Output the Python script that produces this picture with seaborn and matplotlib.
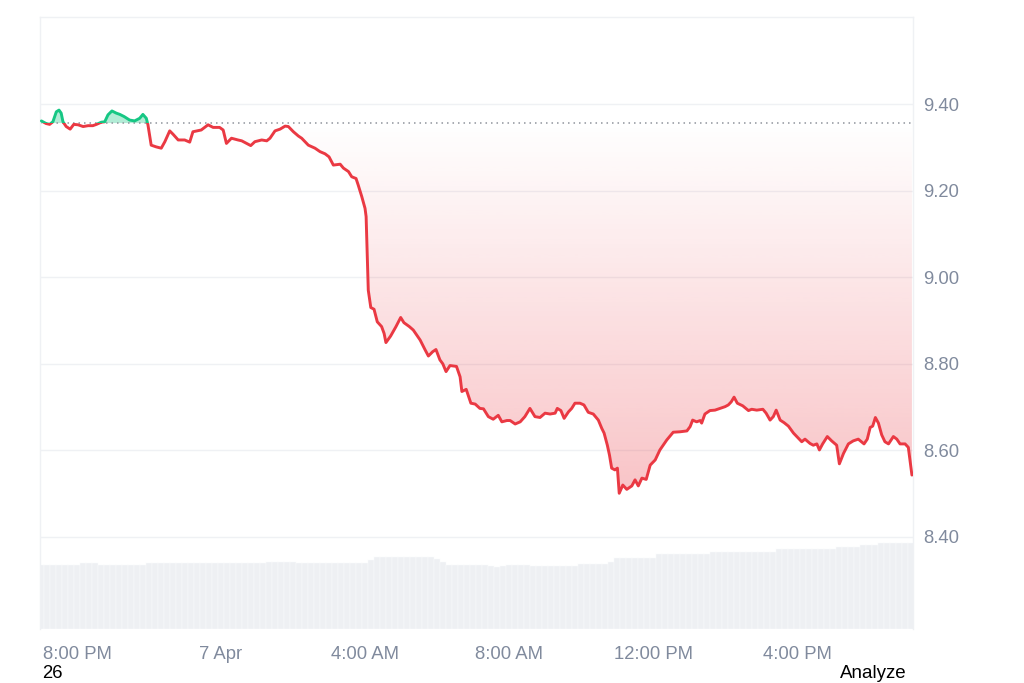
import matplotlib
matplotlib.use("Agg")
import matplotlib.pyplot as plt
import numpy as np
import pandas as pd
import seaborn as sns
from matplotlib.patches import Rectangle
from matplotlib.path import Path
from matplotlib.colors import to_rgb
from matplotlib.ticker import FormatStrFormatter

# price data: hours after 8:00 PM (6 Apr) and price
hours = [
    -0.99, -0.86, -0.76, -0.67, -0.575, -0.50, -0.44, -0.39, -0.30, -0.19,
    -0.09, 0.03, 0.17, 0.31, 0.44, 0.54, 0.675, 0.77, 0.86, 0.97,
    1.09, 1.19, 1.31, 1.46, 1.60, 1.74, 1.83, 1.925, 1.97, 2.06,
    2.20, 2.34, 2.44, 2.575, 2.67, 2.81, 2.99, 3.13, 3.22, 3.45,
    3.64, 3.78, 3.96, 4.06, 4.15, 4.29, 4.47, 4.575, 4.71, 4.825,
    4.94, 5.13, 5.27, 5.36, 5.50, 5.64, 5.78, 5.87, 6.01, 6.15,
    6.24, 6.425, 6.61, 6.75, 6.89, 7.00, 7.12, 7.31, 7.40, 7.54,
    7.63, 7.75, 7.81, 7.91, 8.00, 8.03, 8.06, 8.09, 8.16, 8.25,
    8.34, 8.46, 8.53, 8.58, 8.71, 8.86, 8.99, 9.08, 9.23, 9.34,
    9.53, 9.67, 9.76, 9.88, 9.97, 10.08, 10.16, 10.25, 10.36, 10.54,
    10.64, 10.69, 10.81, 10.94, 11.06, 11.19, 11.29, 11.425, 11.56, 11.70,
    11.80, 11.94, 12.03, 12.17, 12.31, 12.44, 12.58, 12.72, 12.86, 13.00,
    13.14, 13.28, 13.34, 13.44, 13.53, 13.65, 13.74, 13.83, 13.97, 14.08,
    14.20, 14.34, 14.48, 14.575, 14.64, 14.73, 14.79, 14.85, 14.94, 15.01,
    15.06, 15.16, 15.27, 15.41, 15.50, 15.59, 15.69, 15.81, 15.92, 16.06,
    16.19, 16.38, 16.56, 16.75, 16.94, 17.03, 17.10, 17.21, 17.31, 17.35,
    17.44, 17.58, 17.72, 17.86, 18.00, 18.09, 18.17, 18.25, 18.34, 18.49,
    18.65, 18.74, 18.88, 19.05, 19.14, 19.25, 19.34, 19.42, 19.53, 19.64,
    19.76, 19.90, 20.04, 20.13, 20.22, 20.36, 20.45, 20.55, 20.62, 20.71,
    20.84, 20.96, 21.10, 21.175, 21.29, 21.425, 21.56, 21.70, 21.86, 21.95,
    22.03, 22.10, 22.175, 22.26, 22.35, 22.44, 22.54, 22.675, 22.77, 22.86,
    23.00, 23.09, 23.19,
]
price = [
    9.361, 9.355, 9.353, 9.359, 9.382, 9.386, 9.379, 9.359, 9.348, 9.342,
    9.353, 9.352, 9.348, 9.350, 9.350, 9.353, 9.358, 9.359, 9.375, 9.384,
    9.379, 9.376, 9.371, 9.363, 9.361, 9.367, 9.376, 9.367, 9.352, 9.305,
    9.301, 9.298, 9.313, 9.338, 9.330, 9.317, 9.317, 9.312, 9.336, 9.340,
    9.352, 9.346, 9.346, 9.340, 9.309, 9.321, 9.317, 9.315, 9.309, 9.304,
    9.313, 9.317, 9.315, 9.321, 9.338, 9.342, 9.349, 9.348, 9.336, 9.326,
    9.321, 9.305, 9.298, 9.290, 9.285, 9.278, 9.259, 9.261, 9.252, 9.244,
    9.232, 9.228, 9.213, 9.186, 9.159, 9.140, 9.055, 8.970, 8.930, 8.926,
    8.897, 8.886, 8.870, 8.849, 8.864, 8.886, 8.907, 8.895, 8.886, 8.878,
    8.855, 8.832, 8.818, 8.828, 8.833, 8.809, 8.800, 8.782, 8.796, 8.794,
    8.770, 8.736, 8.741, 8.709, 8.707, 8.697, 8.696, 8.678, 8.672, 8.681,
    8.666, 8.669, 8.669, 8.661, 8.666, 8.678, 8.697, 8.678, 8.676, 8.686,
    8.684, 8.686, 8.697, 8.692, 8.674, 8.689, 8.697, 8.709, 8.709, 8.705,
    8.688, 8.684, 8.670, 8.651, 8.640, 8.612, 8.589, 8.559, 8.555, 8.559,
    8.501, 8.520, 8.510, 8.518, 8.532, 8.518, 8.536, 8.533, 8.566, 8.578,
    8.601, 8.624, 8.642, 8.643, 8.645, 8.655, 8.670, 8.666, 8.669, 8.663,
    8.684, 8.692, 8.693, 8.697, 8.701, 8.705, 8.712, 8.723, 8.709, 8.703,
    8.692, 8.695, 8.693, 8.695, 8.686, 8.670, 8.678, 8.693, 8.670, 8.664,
    8.656, 8.640, 8.628, 8.620, 8.626, 8.616, 8.612, 8.615, 8.601, 8.615,
    8.632, 8.622, 8.612, 8.569, 8.593, 8.615, 8.622, 8.626, 8.615, 8.626,
    8.653, 8.656, 8.676, 8.663, 8.636, 8.620, 8.615, 8.632, 8.626, 8.615,
    8.615, 8.607, 8.543,
]
base_price = 9.356

# volume bars, one every 10 minutes starting 7:00 PM
volume = [
    6.4, 6.4, 6.4, 6.4, 6.4, 6.4, 6.4, 6.6, 6.6, 6.6,
    6.4, 6.4, 6.4, 6.4, 6.4, 6.4, 6.4, 6.4, 6.6, 6.6,
    6.6, 6.6, 6.6, 6.6, 6.6, 6.6, 6.6, 6.6, 6.6, 6.6,
    6.6, 6.6, 6.6, 6.6, 6.6, 6.6, 6.6, 6.6, 6.7, 6.7,
    6.7, 6.7, 6.7, 6.6, 6.6, 6.6, 6.6, 6.6, 6.6, 6.6,
    6.6, 6.6, 6.6, 6.6, 6.6, 6.9, 7.2, 7.2, 7.2, 7.2,
    7.2, 7.2, 7.2, 7.2, 7.2, 7.2, 7.0, 6.7, 6.4, 6.4,
    6.4, 6.4, 6.4, 6.4, 6.4, 6.3, 6.2, 6.3, 6.4, 6.4,
    6.4, 6.4, 6.3, 6.3, 6.3, 6.3, 6.3, 6.3, 6.3, 6.3,
    6.5, 6.5, 6.5, 6.5, 6.5, 6.7, 7.1, 7.1, 7.1, 7.1,
    7.1, 7.1, 7.1, 7.5, 7.5, 7.5, 7.5, 7.5, 7.5, 7.5,
    7.5, 7.5, 7.7, 7.7, 7.7, 7.7, 7.7, 7.7, 7.7, 7.7,
    7.7, 7.7, 7.7, 8.0, 8.0, 8.0, 8.0, 8.0, 8.0, 8.0,
    8.0, 8.0, 8.0, 8.2, 8.2, 8.2, 8.2, 8.4, 8.4, 8.4,
    8.6, 8.6, 8.6, 8.6, 8.6, 8.6,
]
vol_hours = -1.0 + np.arange(len(volume)) / 6

tick_hours = [0, 4, 8, 12, 16, 20]
tick_labels = ["8:00 PM", "7 Apr", "4:00 AM", "8:00 AM", "12:00 PM", "4:00 PM"]
price_ticks = [8.40, 8.60, 8.80, 9.00, 9.20, 9.40]

RED = "#ea3943"
GREEN = "#16c784"
GRID = "#eff1f4"
LABEL = "#808a9d"

sns.set_theme(style="white")
plt.rcParams["font.family"] = ["Liberation Sans", "DejaVu Sans"]

df = pd.DataFrame({"hours": hours, "price": price})
x = df["hours"].to_numpy()
y = df["price"].to_numpy()

fig = plt.figure(figsize=(10.24, 6.83), dpi=100)
pos = [40 / 1024, 54 / 683, 873 / 1024, 612 / 683]
ax_vol = fig.add_axes(pos)
ax = fig.add_axes(pos, sharex=ax_vol)
ax.patch.set_visible(False)

# volume
sns.barplot(x=vol_hours, y=volume, native_scale=True, ax=ax_vol,
            color="#eef0f3", width=1.0, edgecolor="#fafbfc", linewidth=0.35,
            saturation=1)
ax_vol.set_ylim(0, 61.2)
ax_vol.axis("off")

xmin, xmax = -1.028, 23.22
ymin, ymax = 8.1875, 9.601

# grid lines
for t in price_ticks:
    ax.axhline(t, color=GRID, lw=1, zorder=0)

# green fill above baseline
ax.fill_between(x, y, base_price, where=y >= base_price, interpolate=True,
                color=GREEN, alpha=0.33, linewidth=0, zorder=1)

# red gradient fill below baseline
red_poly = ax.fill_between(x, y, base_price, where=y <= base_price,
                           interpolate=True, facecolor="none",
                           edgecolor="none")
clip = Path.make_compound_path(*red_poly.get_paths())
grad = np.zeros((256, 1, 4))
grad[..., :3] = to_rgb(RED)
grad[..., 3] = np.linspace(0.30, 0.0, 256)[:, None]
img = ax.imshow(grad, extent=[xmin, xmax, y.min(), base_price],
                origin="lower", aspect="auto", zorder=1)
img.set_clip_path(clip, transform=ax.transData)

# baseline
ax.axhline(base_price, color="#8f949c", lw=1.1, ls=(0, (1, 2.6)), zorder=2)

# price line, red below baseline, green above
sns.lineplot(x=x, y=y, ax=ax, color=RED, lw=2.1, estimator=None, sort=False)
red_line = ax.lines[-1]
red_line.set_clip_path(Rectangle((xmin, ymin), xmax - xmin, base_price - ymin,
                                 transform=ax.transData))
sns.lineplot(x=x, y=y, ax=ax, color=GREEN, lw=2.1, estimator=None, sort=False)
green_line = ax.lines[-1]
green_line.set_clip_path(Rectangle((xmin, base_price), xmax - xmin,
                                   ymax - base_price, transform=ax.transData))
for ln in (red_line, green_line):
    ln.set_solid_joinstyle("round")
    ln.set_zorder(3)

ax.set_xlim(xmin, xmax)
ax.set_ylim(ymin, ymax)
ax.set_xticks(tick_hours)
ax.set_xticklabels(tick_labels)
ax.set_yticks(price_ticks)
ax.yaxis.set_major_formatter(FormatStrFormatter("%.2f"))
ax.yaxis.tick_right()
ax.tick_params(axis="x", length=0, pad=12, labelsize=13.3, labelcolor=LABEL)
ax.tick_params(axis="y", length=0, pad=7.5, labelsize=13.3, labelcolor=LABEL)
ax.set_xlabel("")
ax.set_ylabel("")
for side in ("left", "right", "top"):
    ax.spines[side].set_color(GRID)
    ax.spines[side].set_linewidth(1)
ax.spines["bottom"].set_visible(False)

fig.text(42 / 1024, 1.5 / 683, "26", va="bottom", ha="left", fontsize=13.3,
         color="black")
fig.text(840 / 1024, 0.0069, "Analyze", va="baseline", ha="left",
         fontsize=13.5, color="black")

fig.savefig("out.png", dpi=100)
